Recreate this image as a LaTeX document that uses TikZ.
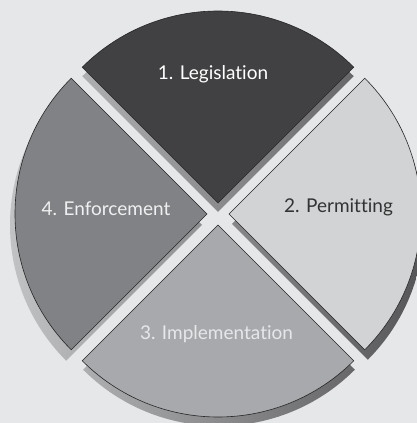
\documentclass[tikz,border=0pt]{standalone}
\usepackage{fontspec}
\setmainfont{Lato}[Ligatures={CommonOff,RareOff}]
\definecolor{bgfill}{HTML}{E6E7E8}
\definecolor{legfill}{HTML}{414042}
\definecolor{perfill}{HTML}{D1D3D4}
\definecolor{impfill}{HTML}{A7A9AC}
\definecolor{enffill}{HTML}{808285}
\definecolor{shadelight}{HTML}{C6C7C8}
\definecolor{shadedark}{HTML}{505052}
\newcommand{\quadrant}[3]{({#2+11*cos(#1)},{#3+11*sin(#1)}) -- ++(#1-45:192) arc[start angle=#1-45, end angle=#1+45, radius=192] -- cycle}
\tikzset{
  sector/.style={draw=black!85, line width=0.6},
  lbl/.style={anchor=base, font=\fontsize{19}{19}\selectfont},
}

\begin{document}
\begin{tikzpicture}[x=1pt,y=1pt]
            \useasboundingbox (-218,-209) rectangle (199,214);
            \fill[bgfill] (-218,-209) rectangle (199,214);
            % shadows
            \shade[left color=shadelight, right color=shadedark] \quadrant{90}{0}{-9} \quadrant{0}{3}{-10} \quadrant{270}{1}{-9} \quadrant{180}{-5}{-11};
            % the four quadrants
            \draw[sector, fill=legfill] \quadrant{90}{0}{0};
            \draw[sector, fill=perfill] \quadrant{0}{0}{0};
            \draw[sector, fill=impfill] \quadrant{270}{0}{0};
            \draw[sector, fill=enffill] \quadrant{180}{0}{0};
            \node[lbl, text=white] (legis) at (-5,134) {1. Legislation};
            \node[lbl, text=black!80] (permit) at (120.5,1) {2. Permitting};
            \node[lbl, text=bgfill] (implem) at (-1.5,-125) {3. Implementation};
            \node[lbl, text=white!94!black] (enforce) at (-112,-2) {4. Enforcement};
        \end{tikzpicture}
\end{document}
